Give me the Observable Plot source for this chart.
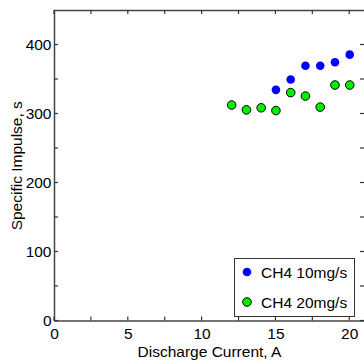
<!DOCTYPE html>
<html>
<head>
<meta charset="utf-8">
<script src="https://cdn.jsdelivr.net/npm/d3@7"></script>
<script src="https://cdn.jsdelivr.net/npm/@observablehq/plot@0.6"></script>
<style>
  html, body { margin: 0; padding: 0; background: #fff; overflow: hidden; }
  #chart { position: relative; width: 364px; height: 362px; }
  #chart svg { display: block; }
</style>
</head>
<body>
<div id="chart"></div>
<script>
const seriesNames = ["CH4 10mg/s", "CH4 20mg/s"];
const current10 = [15, 16, 17, 18, 19, 20];
const isp10 = [335, 350, 370, 370, 375, 386];
const current20 = [12, 13, 14, 15, 16, 17, 18, 19, 20];
const isp20 = [313, 306, 309, 305, 331, 326, 310, 342, 342];
const xMajor = [0, 5, 10, 15, 20];
const xMinor = [0, 2.5, 5, 7.5, 10, 12.5, 15, 17.5, 20];
const yMajor = [0, 100, 200, 300, 400];
const yMinor = [0, 50, 100, 150, 200, 250, 300, 350, 400];
const xMax = 21;
const yMax = 450;

const pts10 = current10.map((x, i) => ({x, y: isp10[i]}));
const pts20 = current20.map((x, i) => ({x, y: isp20[i]}));

const axisColor = "#444";
const tickColor = "#333";
const font = "Liberation Sans, Arial, sans-serif";

const chart = Plot.plot({
  width: 364,
  height: 362,
  marginLeft: 54,
  marginRight: 0,
  marginTop: 10,
  marginBottom: 41.5,
  style: {fontFamily: font, fontSize: "15.5px", background: "#fff", color: "#000"},
  x: {domain: [0, xMax]},
  y: {domain: [0, yMax]},
  marks: [
    Plot.axisX({ticks: xMajor, tickSize: 0, tickPadding: 7, fill: "#000", tickFormat: d => String(d),
      label: "Discharge Current, A", labelAnchor: "center", labelArrow: "none", labelOffset: 36}),
    Plot.axisY({ticks: yMajor, tickSize: 0, tickPadding: 3, fill: "#000", tickFormat: d => String(d),
      label: "Specific Impulse, s", labelAnchor: "center", labelArrow: "none", labelOffset: 44}),
    Plot.ruleY([0], {stroke: axisColor, strokeWidth: 1.5}),
    Plot.ruleY([yMax], {stroke: axisColor, strokeWidth: 1.5}),
    Plot.ruleX([0], {stroke: axisColor, strokeWidth: 1.5}),
    Plot.dot(pts10, {x: "x", y: "y", r: 4.3, fill: "#0000ff", stroke: "none"}),
    Plot.dot(pts20, {x: "x", y: "y", r: 4.3, fill: "#00ee00", stroke: "#000", strokeWidth: 1})
  ]
});
document.getElementById("chart").appendChild(chart);

// inward ticks on all four sides, placed through Plot's own scales
const sx = chart.scale("x"), sy = chart.scale("y");
const svg = d3.select(chart);
const tg = svg.append("g").attr("stroke", tickColor).attr("stroke-width", 1.2);
const x0 = sx.apply(0), x1 = sx.apply(xMax), y0 = sy.apply(0), y1 = sy.apply(yMax);
const tl = 4;
xMinor.forEach(v => {
  const px = sx.apply(v);
  tg.append("line").attr("x1", px).attr("x2", px).attr("y1", y0).attr("y2", y0 - tl);
  tg.append("line").attr("x1", px).attr("x2", px).attr("y1", y1).attr("y2", y1 + tl);
});
yMinor.forEach(v => {
  const py = sy.apply(v);
  tg.append("line").attr("x1", x0).attr("x2", x0 + tl).attr("y1", py).attr("y2", py);
  tg.append("line").attr("x1", x1).attr("x2", x1 - tl).attr("y1", py).attr("y2", py);
});

// Legend (inside the plot, lower right)
const lg = svg.append("g").attr("font-family", font).attr("font-size", "15.5px").attr("text-anchor", "start");
lg.append("rect").attr("x", 234.5).attr("y", 258.5).attr("width", 120).attr("height", 58)
  .attr("fill", "#fff").attr("stroke", "#333").attr("stroke-width", 1);
const legendStyles = [
  {fill: "#0000ff", stroke: "none"},
  {fill: "#00ee00", stroke: "#000"}
];
seriesNames.forEach((name, i) => {
  const cy = 272 + i * 30;
  lg.append("circle").attr("cx", 247).attr("cy", cy).attr("r", 4.3)
    .attr("fill", legendStyles[i].fill).attr("stroke", legendStyles[i].stroke);
  lg.append("text").attr("x", 261).attr("y", cy).attr("dy", "0.36em").attr("fill", "#000")
    .attr("text-anchor", "start").text(name);
});
</script>
</body>
</html>
